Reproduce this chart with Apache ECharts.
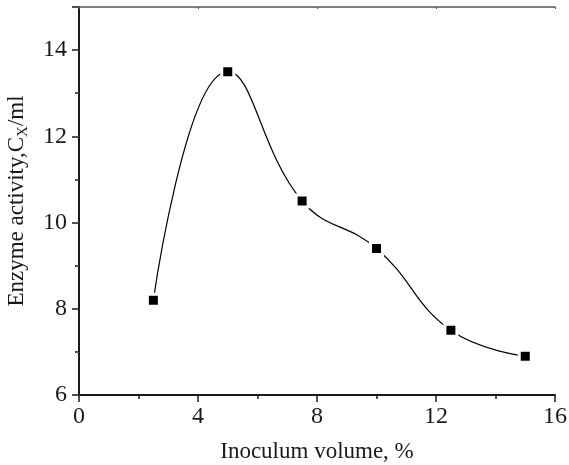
<!DOCTYPE html>
<html>
<head>
    <meta charset="UTF-8">
    <title>Inoculum volume</title>
    <script type="text/javascript" src="https://cdn.jsdelivr.net/npm/echarts@6/dist/echarts.min.js"></script>
</head>
<body style="margin: 0; background: #fff">
<div id="container" style="height: 465px; width: 569px"></div>
<script type="text/javascript">
    // inoculum volume (%) vs enzyme activity
    var inoculum = [2.5, 5, 7.5, 10, 12.5, 15];
    var activity = [8.2, 13.5, 10.5, 9.4, 7.5, 6.9];

    var font = 'Liberation Serif';
    var dark = '#1a1a1a';

    var myChart = echarts.init(document.getElementById('container'));

    var points = inoculum.map(function (x, i) {
        return [x, activity[i]];
    });

    var option = {
        animation: false,
        grid: {left: 79, right: 14, top: 7, bottom: 70, outerBoundsMode: 'none'},
        xAxis: [{
            type: 'value',
            min: 0, max: 16, interval: 4,
            name: 'Inoculum volume, %',
            nameLocation: 'middle',
            nameGap: 45,
            nameTextStyle: {fontFamily: font, fontSize: 23, color: dark},
            axisLine: {lineStyle: {color: dark, width: 2}},
            axisTick: {length: 7, lineStyle: {color: dark, width: 1.5}},
            minorTick: {show: true, splitNumber: 2, length: 4, lineStyle: {color: dark, width: 1.5}},
            axisLabel: {fontFamily: font, fontSize: 24, color: dark, margin: 10},
            splitLine: {show: false}
        }, {
            type: 'value',
            position: 'top',
            min: 0, max: 16, interval: 4,
            axisLine: {lineStyle: {color: '#555', width: 1.5}},
            axisTick: {inside: true, length: 2, lineStyle: {color: '#555'}},
            axisLabel: {show: false},
            splitLine: {show: false}
        }],
        yAxis: [{
            type: 'value',
            min: 6, max: 15, interval: 2,
            name: 'Enzyme activity,C{sub|X}/ml',
            nameLocation: 'middle',
            nameGap: 48,
            nameTextStyle: {
                fontFamily: font, fontSize: 23, color: dark, lineHeight: 28,
                rich: {
                    sub: {fontFamily: font, fontSize: 15, color: dark, lineHeight: 18, verticalAlign: 'bottom'}
                }
            },
            axisLine: {lineStyle: {color: dark, width: 2}},
            axisTick: {length: 7, lineStyle: {color: dark, width: 1.5}},
            minorTick: {show: true, splitNumber: 2, length: 4, lineStyle: {color: dark, width: 1.5}},
            axisLabel: {fontFamily: font, fontSize: 24, color: dark, margin: 12, showMaxLabel: false},
            splitLine: {show: false}
        }, {
            type: 'value',
            position: 'right',
            min: 6, max: 15, interval: 1,
            axisLine: {lineStyle: {color: dark, width: 1.5}},
            axisTick: {inside: true, length: 2, lineStyle: {color: '#555'}},
            axisLabel: {show: false},
            splitLine: {show: false}
        }],
        series: [{
            type: 'line',
            data: points,
            smooth: 0.45,
            lineStyle: {color: '#000', width: 1.2},
            symbol: 'rect',
            symbolSize: 12,
            itemStyle: {color: '#000', borderColor: '#fff', borderWidth: 3}
        }]
    };

    myChart.setOption(option);
</script>
</body>
</html>
